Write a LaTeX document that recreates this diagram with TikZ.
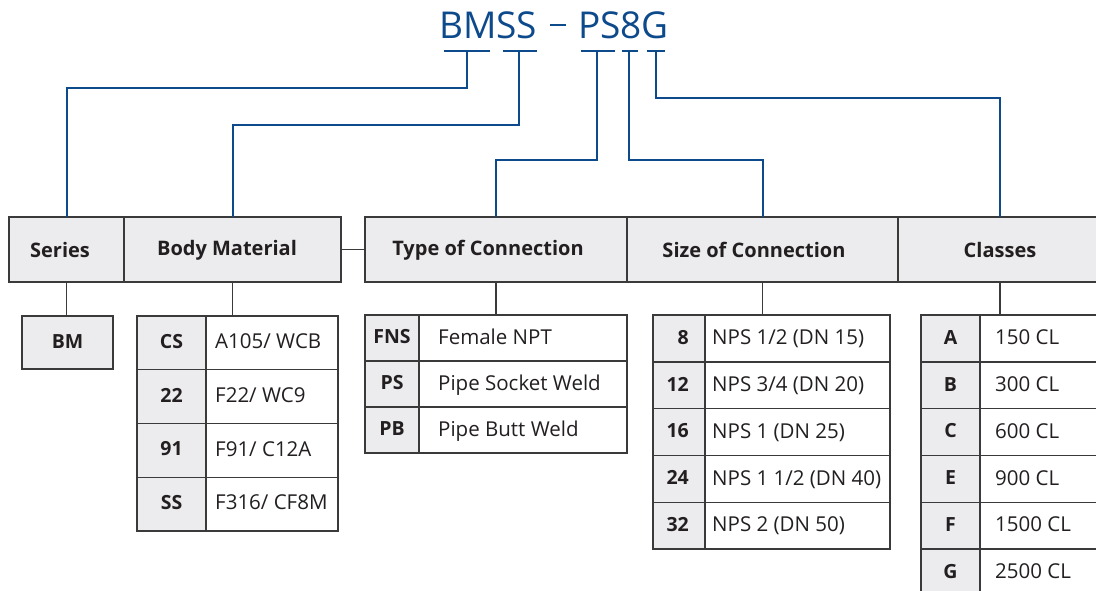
\documentclass[tikz,border=0pt]{standalone}
\usepackage{fontspec}
\setmainfont{Open Sans}
\definecolor{lc}{HTML}{3A3A3A}
\definecolor{gf}{HTML}{ECECEE}
\definecolor{tc}{HTML}{231F20}
\definecolor{bc}{HTML}{0D4A8B}
\begin{document}
\begin{tikzpicture}[x=1pt,y=-1pt,
  box/.style={draw=lc, line width=1.4pt, inner sep=0pt, outer sep=0pt},
  hdr/.style={box, fill=gf, minimum height=65pt},
  codec/.style={box, fill=gf},
  descc/.style={box, fill=white},
  ttl/.style={font=\fontsize{37}{44}\selectfont, text=bc, inner sep=0pt},
  ht/.style={font=\bfseries\fontsize{20}{24}\selectfont, text=tc, inner sep=0pt, text height=14.3pt, text depth=0pt},
  ct/.style={font=\bfseries\fontsize{19.5}{23}\selectfont, text=tc, inner sep=0pt, text height=13.9pt, text depth=0pt},
  dt/.style={font=\fontsize{20.5}{24}\selectfont, text=tc, inner sep=0pt, text height=14.6pt, text depth=0pt},
  bl/.style={draw=bc, line width=2pt},
  gl/.style={draw=lc, line width=1.4pt}]
\useasboundingbox (0,0) rectangle (1096,590);
\clip (0,0) rectangle (1096,590);

% title
\node[ttl, anchor=base west] (t1) at (439,38.5) {BMSS};
\node[ttl, anchor=base east] (t2) at (669,38.5) {PS8G};
\draw[bl] (550,25) -- (566,25);
\coordinate (cbm) at (467,51);
\coordinate (css) at (519,51);
\coordinate (cps) at (597,51);
\coordinate (c8) at (629,51);
\coordinate (cg) at (656,51);
\draw[bl] (444,51) -- (490,51);
\draw[bl] (503,51) -- (537,51);
\draw[bl] (581,51) -- (615,51);
\draw[bl] (622,51) -- (638,51);
\draw[bl] (647,51) -- (665,51);

% header boxes
\node[hdr, minimum width=115pt] (series) at (66.5,249.5) {};
\node[hdr, minimum width=217pt] (body) at (232.5,249.5) {};
\node[hdr, minimum width=262pt] (type) at (496,249.5) {};
\node[hdr, minimum width=271pt] (size) at (762.5,249.5) {};
\node[hdr, minimum width=204pt] (classes) at (1000,249.5) {};
\node[ht] at (60,250) {Series};
\node[ht] at (227,248) {Body Material};
\node[ht] at (488,248) {Type of Connection};
\node[ht] at (754,250) {Size of Connection};
\node[ht] at (1000,250) {Classes};
\draw[gl] (body.east) -- (type.west);

% blue connectors
\draw[bl] (cbm) -- (467,88) -| (series.north);
\draw[bl] (css) -- (519,125) -| (body.north);
\draw[bl] (cps) -- (597,160) -| (type.north);
\draw[bl] (c8) -- (629,160) -| (size.north);
\draw[bl] (cg) -- (656,98) -| (classes.north);

% series
\node[codec, minimum width=91pt, minimum height=53pt] (bm) at (67.5,342.5) {};
\node[ct] at ([yshift=1pt]bm.center) {BM};
\draw[gl] (series.south) -- (series.south |- bm.north);

% body material
\foreach \i/\c/\d in {1/CS/{A105/ WCB},2/22/{F22/ WC9},3/91/{F91/ C12A},4/SS/{F316/ CF8M}}{
  \node[codec, minimum width=69pt, minimum height=53.75pt] (bc\i) at (171.5,{316+53.75*(\i-0.5)}) {};
  \node[descc, minimum width=132pt, minimum height=53.75pt] (bd\i) at (272,{316+53.75*(\i-0.5)}) {};
  \node[ct] at ([yshift=1.5pt]bc\i.center) {\c};
  \node[dt, anchor=west] at ([xshift=9pt,yshift=1.5pt]bd\i.west) {\d};
}
\draw[gl] (body.south) -- (body.south |- bd1.north);

% type of connection
\foreach \i/\c/\d in {1/FNS/{Female NPT},2/PS/{Pipe Socket Weld},3/PB/{Pipe Butt Weld}}{
  \node[codec, minimum width=54pt, minimum height=46pt] (tc\i) at (392,{315+46*(\i-0.5)}) {};
  \node[descc, minimum width=208pt, minimum height=46pt] (td\i) at (523,{315+46*(\i-0.5)}) {};
  \node[ct] at ([yshift=1pt]tc\i.center) {\c};
  \node[dt, anchor=west] at ([xshift=19pt,yshift=1pt]td\i.west) {\d};
}
\draw[gl] (type.south) -- (type.south |- td1.north);

% size of connection
\foreach \i/\c/\d in {1/8/{NPS 1/2 (DN 15)},2/12/{NPS 3/4 (DN 20)},3/16/{NPS 1 (DN 25)},4/24/{NPS 1 1/2 (DN 40)},5/32/{NPS 2 (DN 50)}}{
  \node[codec, minimum width=52pt, minimum height=46.8pt] (sc\i) at (679,{315+46.8*(\i-0.5)}) {};
  \node[descc, minimum width=185pt, minimum height=46.8pt] (sd\i) at (797.5,{315+46.8*(\i-0.5)}) {};
  \node[ct, anchor=east] at ([xshift=-16pt,yshift=1pt]sc\i.east) {\c};
  \node[dt, anchor=west] at ([xshift=7pt,yshift=1pt]sd\i.west) {\d};
}
\draw[gl] (size.south) -- (size.south |- sd1.north);

% classes
\foreach \i/\c/\d in {1/A/{150 CL},2/B/{300 CL},3/C/{600 CL},4/E/{900 CL},5/F/{1500 CL},6/G/{2500 CL},7/{}/{}}{
  \node[codec, minimum width=59pt, minimum height=46.8pt] (kc\i) at (950.5,{315+46.8*(\i-0.5)}) {};
  \node[descc, minimum width=130pt, minimum height=46.8pt] (kd\i) at (1045,{315+46.8*(\i-0.5)}) {};
  \node[ct] at ([yshift=1pt]kc\i.center) {\c};
  \node[dt, anchor=west] at ([xshift=15pt,yshift=1pt]kd\i.west) {\d};
}
\draw[gl] (classes.south) -- (classes.south |- kd1.north);
\end{tikzpicture}
\end{document}
